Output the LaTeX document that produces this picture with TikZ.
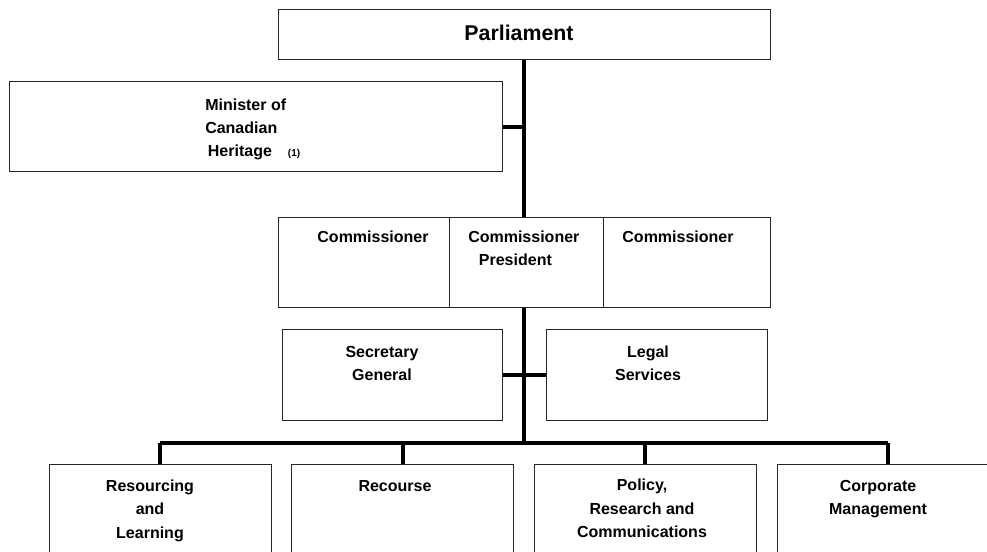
\documentclass[tikz,border=0pt]{standalone}
\usepackage{fontspec}
\setmainfont{Liberation Sans}

\tikzset{
    unitbox/.style 2 args={draw=black!85, line width=0.75pt, inner sep=0pt,
        minimum width=#1*0.75pt, minimum height=#2*0.75pt},
    lbl/.style={font=\bfseries\fontsize{12}{17.5}\selectfont, inner sep=0pt, align=center},
    link/.style={line width=3pt},
}

\begin{document}
\begin{tikzpicture}[x=0.75pt, y=-0.75pt]
    \clip (0,0) rectangle (987,552);

    % Boxes
    \node[unitbox={492}{50}] (parl) at (524,35) {};
    \node[unitbox={493}{90}] (minister) at (255.5,127) {};
    \node[unitbox={171}{90}] (comL) at (363.5,262) {};
    \node[unitbox={154}{90}] (comP) at (526,262) {};
    \node[unitbox={167}{90}] (comR) at (686.5,262) {};
    \node[unitbox={220}{91}] (secgen) at (392,374.5) {};
    \node[unitbox={221}{91}] (legal) at (656.5,374.5) {};
    \foreach \nm/\x in {resourcing/160, recourse/402.5, policy/645, corporate/888}
        \node[unitbox={222}{110}] (\nm) at (\x,519) {};

    % Labels (base = baseline of the last line)
    \node[lbl, font=\bfseries\fontsize{16}{19}\selectfont, anchor=base] (parl-txt) at (519,41) {Parliament};
    \node[lbl, align=left, anchor=base west] (minister-txt) at (205,157)
        {Minister of\\Canadian\\\hspace*{2pt}Heritage\hspace{12pt}{\fontsize{7.5}{8}\selectfont(1)}};
    \node[lbl, anchor=base] (comL-txt) at (373,243) {Commissioner};
    \node[lbl, align=left, anchor=base west] (comP-txt) at (468,265.5) {Commissioner\\\hspace*{8pt}President};
    \node[lbl, anchor=base] (comR-txt) at (678,243) {Commissioner};
    \node[lbl, anchor=base] (secgen-txt) at (382,380.5) {Secretary\\General};
    \node[lbl, anchor=base] (legal-txt) at (648,380.5) {Legal\\Services};
    \node[lbl, anchor=base] (resourcing-txt) at (150,538) {Resourcing\\and\\Learning};
    \node[lbl, anchor=base] (recourse-txt) at (395,491) {Recourse};
    \node[lbl, anchor=base] (policy-txt) at (642,537.5) {Policy,\\Research and\\Communications};
    \node[lbl, anchor=base] (corporate-txt) at (878,514.5) {Corporate\\Management};

    % Connectors
    \coordinate (bus) at (524,443);
    \draw[link] (parl.south) -- (parl.south |- comP.north);
    \draw[link] (minister.east) -- (minister.east -| parl.south);
    \draw[link] (parl.south |- comP.south) -- (bus);
    \draw[link] (secgen.east) -- (legal.west);
    \draw[link] (resourcing.north |- bus) -- (corporate.north |- bus);
    \foreach \nm in {resourcing, recourse, policy, corporate}
        \draw[link] (\nm.north |- bus) -- (\nm.north);
\end{tikzpicture}
\end{document}
